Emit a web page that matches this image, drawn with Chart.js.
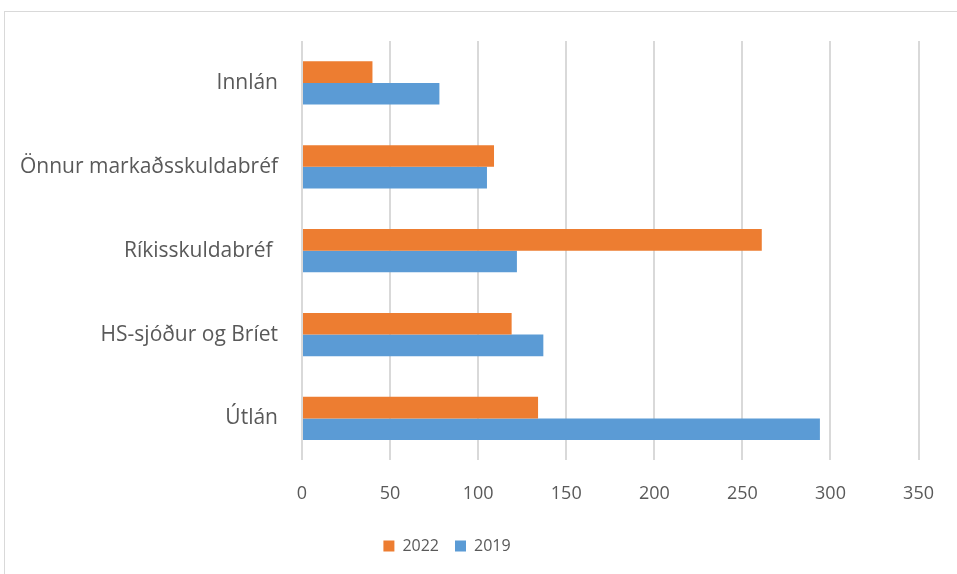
<!DOCTYPE html>
<html>
<head>
<meta charset="utf-8">
<script src="https://cdn.jsdelivr.net/npm/chart.js@4"></script>
<style>
  html, body { margin: 0; padding: 0; background: #fff; overflow: hidden; }
  #wrap { position: relative; width: 957px; height: 574px; }
  #frame { position: absolute; left: 4px; top: 11px; width: 1000px; height: 600px; border: 1.5px solid #d9d9d9; }
  canvas { position: absolute; left: 0; top: 0; }
</style>
</head>
<body>
<div id="wrap">
  <div id="frame"></div>
  <canvas id="chart" width="957" height="574"></canvas>
</div>
<script>
// categories, top to bottom
const categories = ['Innlán', 'Önnur markaðsskuldabréf', 'Ríkisskuldabréf ', 'HS-sjóður og Bríet', 'Útlán'];
const values2022 = [40, 109, 261, 119, 134];
const values2019 = [78, 105, 122, 137, 294];
const xTicks = [0, 50, 100, 150, 200, 250, 300, 350];

const textColor = '#595959';
const gridColor = '#d9d9d9';
const fontFamily = '"Open Sans", "Noto Sans", sans-serif';

// move the legend so it sits where the original one is
const legendShift = {
    id: 'legendShift',
    afterLayout(chart) {
        const lg = chart.legend;
        if (!lg) return;
        const dx = 447 - (lg.left + lg.right) / 2;
        const dy = 543 - (lg.top + lg.bottom) / 2;
        lg.left += dx;
        lg.right += dx;
        lg.top += dy;
        lg.bottom += dy;
    }
};

new Chart(document.getElementById('chart'), {
    type: 'bar',
    data: {
        labels: categories,
        datasets: [
            {
                label: '2022',
                data: values2022,
                backgroundColor: '#ED7D31',
                barPercentage: 1,
                categoryPercentage: 0.515
            },
            {
                label: '2019',
                data: values2019,
                backgroundColor: '#5B9BD5',
                barPercentage: 1,
                categoryPercentage: 0.515
            }
        ]
    },
    options: {
        indexAxis: 'y',
        responsive: false,
        animation: false,
        layout: {
            padding: { top: 41, right: 37, bottom: 4, left: 0 }
        },
        plugins: {
            legend: {
                position: 'bottom',
                labels: {
                    boxWidth: 11,
                    boxHeight: 11,
                    padding: 16,
                    color: textColor,
                    font: { family: fontFamily, size: 16 }
                }
            },
            tooltip: { enabled: false }
        },
        scales: {
            x: {
                min: 0,
                max: 350,
                afterBuildTicks(scale) {
                    scale.ticks = xTicks.map(v => ({ value: v }));
                },
                grid: { color: gridColor, lineWidth: 2, drawTicks: false },
                border: { display: false },
                ticks: {
                    padding: 23,
                    color: textColor,
                    font: { family: fontFamily, size: 18 }
                }
            },
            y: {
                afterFit(scale) {
                    scale.width = 302;
                },
                grid: { display: false, drawTicks: false },
                border: { display: false },
                ticks: {
                    padding: 24,
                    color: textColor,
                    font: { family: fontFamily, size: 21 }
                }
            }
        }
    },
    plugins: [legendShift]
});
</script>
</body>
</html>
